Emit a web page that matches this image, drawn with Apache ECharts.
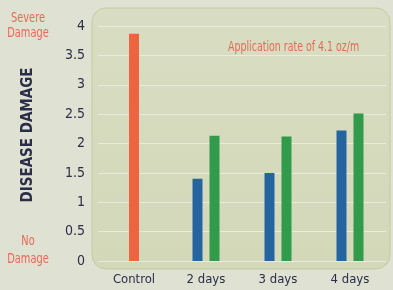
<!DOCTYPE html>
<html>
<head>
<meta charset="utf-8">
<script src="https://cdn.jsdelivr.net/npm/echarts@6/dist/echarts.min.js"></script>
<style>
  html, body { margin: 0; padding: 0; background: #dfe1d2; }
  #chart { width: 393px; height: 290px; }
</style>
</head>
<body>
<div id="chart"></div>
<script>
// data
const categories = ['Control', '2 days', '3 days', '4 days']
const controlValues = [3.87, '-', '-', '-']
const blueValues = ['-', 1.40, 1.50, 2.22]
const greenValues = ['-', 2.13, 2.12, 2.51]
const yTicks = [0, 0.5, 1, 1.5, 2, 2.5, 3, 3.5, 4]

const chart = echarts.init(document.getElementById('chart'), null, { renderer: 'canvas' })

const labelFont = "'DejaVu Sans Condensed', 'Liberation Sans Narrow', sans-serif"
const navy = '#2b2e48'
const red = '#e66a55'

const option = {
    backgroundColor: '#dfe1d2',
    animation: false,
    graphic: [
        {
            // rounded panel behind the plot
            type: 'rect',
            z: -10,
            shape: { x: 92, y: 8, width: 298, height: 261, r: 14 },
            style: {
                fill: new echarts.graphic.LinearGradient(0, 0, 0, 1, [
                    { offset: 0, color: '#d9ddc3' },
                    { offset: 1, color: '#d2d8b8' }
                ]),
                stroke: '#c4cba2',
                lineWidth: 1
            }
        },
        {
            type: 'text',
            x: 28, y: 11, scaleX: 0.78,
            style: { text: 'Severe\nDamage', fill: red, font: '14px ' + labelFont, align: 'center', lineHeight: 15 }
        },
        {
            type: 'text',
            x: 28, y: 232, scaleX: 0.78,
            style: { text: 'No\nDamage', fill: red, font: '14px ' + labelFont, align: 'center', lineHeight: 18 }
        },
        {
            type: 'text',
            x: 28, y: 135,
            rotation: Math.PI / 2,
            style: { text: 'DISEASE DAMAGE', fill: navy, font: 'bold 15px ' + labelFont, align: 'center', verticalAlign: 'middle' }
        },
        {
            type: 'text',
            x: 228, y: 40, scaleX: 0.75,
            style: { text: 'Application rate of 4.1 oz/m', fill: red, font: '14px ' + labelFont }
        }
    ],
    grid: { left: 98, right: 7, top: 26, bottom: 29, containLabel: false },
    xAxis: [
        {
            type: 'category',
            data: categories,
            axisLine: { show: false },
            axisTick: { show: false },
            axisLabel: { color: navy, fontFamily: labelFont, fontSize: 13, margin: 12 }
        },
        {
            type: 'category',
            data: categories,
            show: false
        }
    ],
    yAxis: {
        type: 'value',
        min: 0,
        max: 4,
        interval: 0.5,
        axisLine: { show: false },
        axisTick: { show: false },
        axisLabel: {
            color: navy, fontFamily: labelFont, fontSize: 14, margin: 13,
            formatter: v => yTicks.includes(v) ? String(v) : ''
        },
        splitLine: { lineStyle: { color: '#e9ebdc', width: 1 } }
    },
    series: [
        {
            type: 'bar',
            xAxisIndex: 1,
            data: controlValues,
            barWidth: 10,
            itemStyle: { color: '#ee6440' }
        },
        {
            type: 'bar',
            xAxisIndex: 0,
            data: blueValues,
            barWidth: 10,
            barGap: '70%',
            itemStyle: { color: '#2664a0' }
        },
        {
            type: 'bar',
            xAxisIndex: 0,
            data: greenValues,
            barWidth: 10,
            itemStyle: { color: '#2f9b4b' }
        }
    ]
}
chart.setOption(option)
</script>
</body>
</html>
